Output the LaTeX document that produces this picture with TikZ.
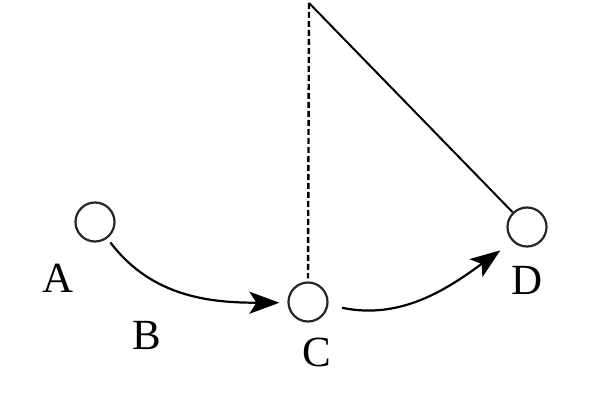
\documentclass[tikz,border=0pt]{standalone}
\usepackage{fontspec}
\setmainfont{Liberation Serif}
\usetikzlibrary{arrows.meta}
\begin{document}
\begin{tikzpicture}[x=1pt,y=1pt,
  ball/.style={circle,draw,line width=2.2pt,minimum size=39pt,inner sep=0pt,draw=black!85},
  lbl/.style={font=\fontsize{43}{43}\selectfont,inner sep=0pt},
  arr/.style={line width=2.2pt,-{Stealth[length=30pt,width=22pt,inset=7pt]}}]
\useasboundingbox (0,0) rectangle (602,402);
\coordinate (P) at (309,399);
\node[ball] (A) at (95,180) {};
\node[ball] (C) at (308,100) {};
\node[ball] (D) at (527,175) {};
\node[lbl] (LA) at (58,124) {A};
\node[lbl] (LB) at (147,67) {B};
\node[lbl] (LC) at (317,50) {C};
\node[lbl] (LD) at (527,122) {D};
\draw[line width=2.4pt,dash pattern=on 6pt off 3pt,shorten >=3pt] (P) -- (C.north);
\draw[line width=2pt] (P) -- (D);
\draw[arr,shorten <=5pt,shorten >=8pt] (A.-53) to[out=-53,in=180] (C.182);
\draw[arr,shorten <=14pt,shorten >=15pt] (C.-8) to[out=-12,in=216] (D.225);
\end{tikzpicture}
\end{document}
